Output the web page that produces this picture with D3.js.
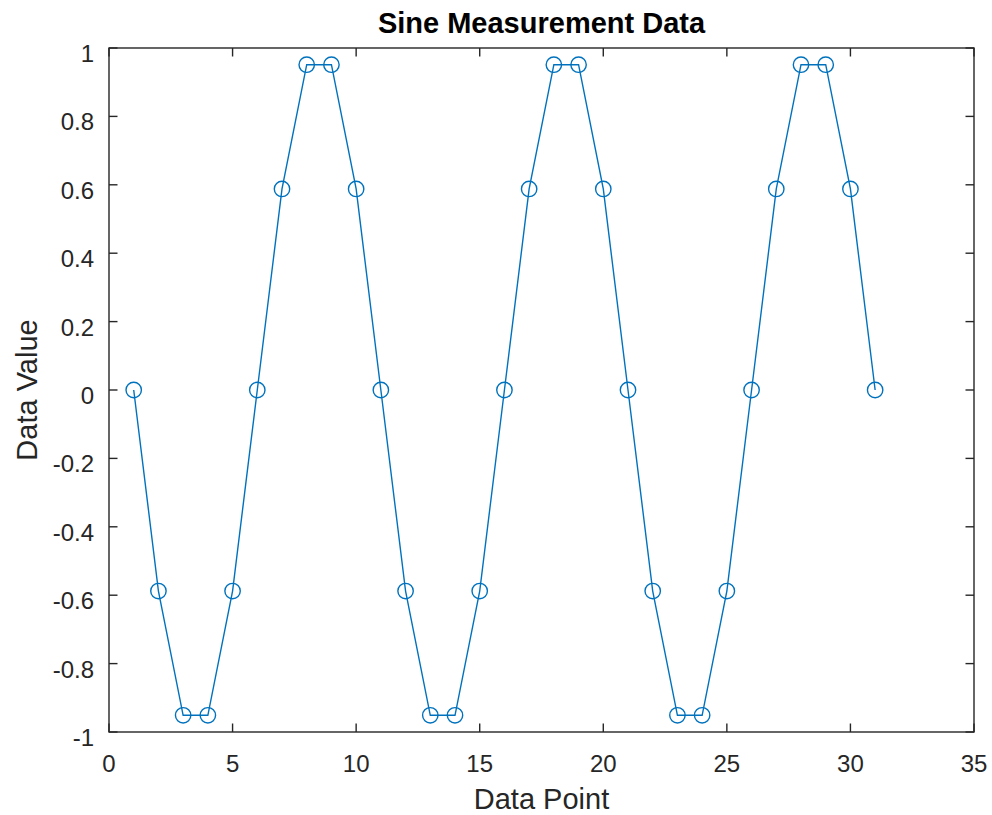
<!DOCTYPE html>
<html><head><meta charset="utf-8">
<script src="https://cdn.jsdelivr.net/npm/d3@7"></script>
<style>body{margin:0;background:#fff;} svg{display:block;font-family:"Liberation Sans",Arial,sans-serif;}</style>
</head><body>
<script>
const xValues = [1,2,3,4,5,6,7,8,9,10,11,12,13,14,15,16,17,18,19,20,21,22,23,24,25,26,27,28,29,30,31];
const yValues = [0,-0.5878,-0.9511,-0.9511,-0.5878,0,0.5878,0.9511,0.9511,0.5878,
                 0,-0.5878,-0.9511,-0.9511,-0.5878,0,0.5878,0.9511,0.9511,0.5878,
                 0,-0.5878,-0.9511,-0.9511,-0.5878,0,0.5878,0.9511,0.9511,0.5878,0];
const xTicks = [0,5,10,15,20,25,30,35];
const yTicks = [-1,-0.8,-0.6,-0.4,-0.2,0,0.2,0.4,0.6,0.8,1];
const yTickLabels = ["-1","-0.8","-0.6","-0.4","-0.2","0","0.2","0.4","0.6","0.8","1"];
const title = "Sine Measurement Data";
const xLabel = "Data Point";
const yLabel = "Data Value";

const W = 992, H = 815;
const m = {left:109, right:974, top:48, bottom:732};
const svg = d3.select("body").append("svg").attr("width",W).attr("height",H);
const x = d3.scaleLinear().domain([0,35]).range([m.left,m.right]);
const y = d3.scaleLinear().domain([-1,1]).range([m.bottom,m.top]);
const axisColor = "#262626";
const tl = 8.5;
const sw = 1.4;

const g = svg.append("g");
g.append("rect").attr("x",m.left).attr("y",m.top).attr("width",m.right-m.left).attr("height",m.bottom-m.top)
 .attr("fill","none").attr("stroke",axisColor).attr("stroke-width",sw);

xTicks.forEach(t=>{
  g.append("line").attr("x1",x(t)).attr("x2",x(t)).attr("y1",m.bottom).attr("y2",m.bottom-tl).attr("stroke",axisColor).attr("stroke-width",sw);
  g.append("line").attr("x1",x(t)).attr("x2",x(t)).attr("y1",m.top).attr("y2",m.top+tl).attr("stroke",axisColor).attr("stroke-width",sw);
  g.append("text").attr("x",x(t)).attr("y",m.bottom+40).attr("text-anchor","middle").attr("font-size",24).attr("fill",axisColor).text(t);
});
yTicks.forEach((t,i)=>{
  g.append("line").attr("x1",m.left).attr("x2",m.left+tl).attr("y1",y(t)).attr("y2",y(t)).attr("stroke",axisColor).attr("stroke-width",sw);
  g.append("line").attr("x1",m.right).attr("x2",m.right-tl).attr("y1",y(t)).attr("y2",y(t)).attr("stroke",axisColor).attr("stroke-width",sw);
  g.append("text").attr("x",m.left-15).attr("y",y(t)+14).attr("text-anchor","end").attr("font-size",24).attr("fill",axisColor).text(yTickLabels[i]);
});

svg.append("text").attr("x",(m.left+m.right)/2).attr("y",33).attr("text-anchor","middle").attr("font-size",29).attr("font-weight","bold").attr("fill","#000").text(title);
svg.append("text").attr("x",(m.left+m.right)/2).attr("y",809).attr("text-anchor","middle").attr("font-size",29).attr("fill",axisColor).text(xLabel);
svg.append("text").attr("transform",`translate(37,${(m.top+m.bottom)/2}) rotate(-90)`).attr("text-anchor","middle").attr("font-size",29).attr("fill",axisColor).text(yLabel);

const data = xValues.map((d,i)=>({x:d,y:yValues[i]}));
const col = "#0072BD";
svg.append("path").datum(data).attr("fill","none").attr("stroke",col).attr("stroke-width",1.4)
  .attr("d",d3.line().x(d=>x(d.x)).y(d=>y(d.y)));
svg.selectAll("circle.pt").data(data).enter().append("circle").attr("class","pt")
  .attr("cx",d=>x(d.x)).attr("cy",d=>y(d.y)).attr("r",7.7).attr("fill","none").attr("stroke",col).attr("stroke-width",1.4);
</script>
</body></html>
